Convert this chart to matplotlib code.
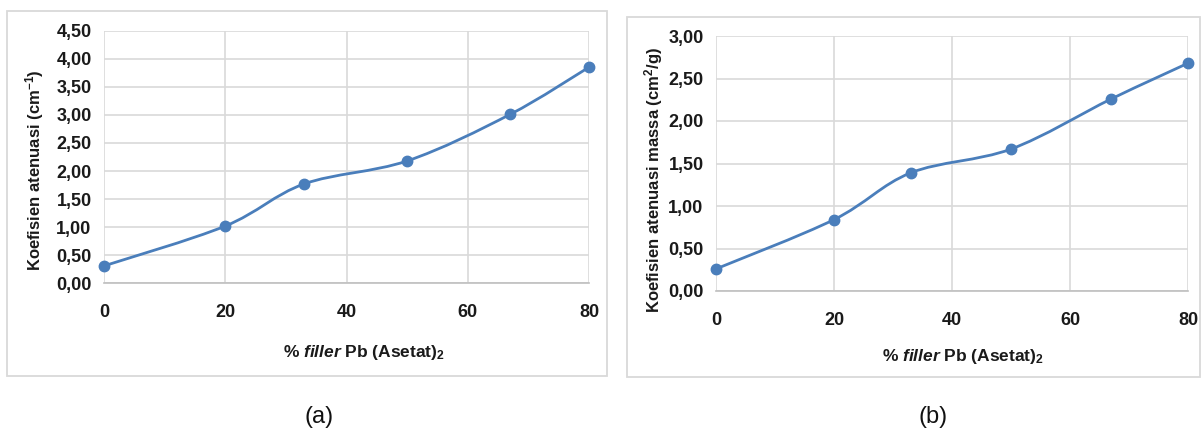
import matplotlib
matplotlib.use("Agg")
import matplotlib.pyplot as plt
from matplotlib.path import Path
from matplotlib.patches import PathPatch, Rectangle
import numpy as np

# data
filler_pct = [0, 20, 33, 50, 67, 80]
koef_linear = [0.31, 1.02, 1.77, 2.18, 3.01, 3.85]    # cm^-1
koef_massa = [0.26, 0.84, 1.39, 1.67, 2.26, 2.68]     # cm^2/g
x_ticks = [0, 20, 40, 60, 80]
y_ticks_a = [0, 0.5, 1.0, 1.5, 2.0, 2.5, 3.0, 3.5, 4.0, 4.5]
y_ticks_b = [0, 0.5, 1.0, 1.5, 2.0, 2.5, 3.0]

FONT = ["Liberation Sans", "DejaVu Sans"]
plt.rcParams["font.family"] = FONT
plt.rcParams["mathtext.fontset"] = "custom"
plt.rcParams["mathtext.rm"] = "Liberation Sans:bold"
plt.rcParams["mathtext.it"] = "Liberation Sans:italic:bold"
plt.rcParams["mathtext.bf"] = "Liberation Sans:bold"

LINE = "#4a7ebb"
GRID = "#d9d9d9"
TXT = "#1a1a1a"


def smooth_path(ax, xs, ys):
    # excel-like smoothed line: bezier through every point
    xs = np.asarray(xs, float)
    ys = np.asarray(ys, float)
    n = len(xs)
    verts = [(xs[0], ys[0])]
    codes = [Path.MOVETO]
    for i in range(n - 1):
        p0 = np.array([xs[max(i - 1, 0)], ys[max(i - 1, 0)]])
        p1 = np.array([xs[i], ys[i]])
        p2 = np.array([xs[i + 1], ys[i + 1]])
        p3 = np.array([xs[min(i + 2, n - 1)], ys[min(i + 2, n - 1)]])
        c1 = p1 + (p2 - p0) / 6.0
        c2 = p2 - (p3 - p1) / 6.0
        verts += [tuple(c1), tuple(c2), tuple(p2)]
        codes += [Path.CURVE4, Path.CURVE4, Path.CURVE4]
    patch = PathPatch(Path(verts, codes), facecolor="none", edgecolor=LINE,
                      linewidth=2.0, zorder=3)
    ax.add_patch(patch)


def panel(rect, ys, yticks, ymax):
    ax = fig.add_axes(rect)
    smooth_path(ax, filler_pct, ys)
    ax.plot(filler_pct, ys, "o", color=LINE, markersize=7.5, zorder=4, clip_on=False)
    ax.set_xlim(0, 80)
    ax.set_ylim(0, ymax)
    ax.set_xticks(x_ticks)
    ax.set_yticks(yticks)
    ax.set_yticklabels([f"{v:.2f}".replace(".", ",") for v in yticks])
    ax.tick_params(axis="both", length=0, labelsize=13, colors=TXT)
    ax.tick_params(axis="x", pad=15)
    ax.tick_params(axis="y", pad=9)
    for lab in ax.get_xticklabels() + ax.get_yticklabels():
        lab.set_fontweight("bold")
    ax.grid(True, color=GRID, linewidth=1.2)
    ax.set_axisbelow(True)
    for s in ["top", "right", "left"]:
        ax.spines[s].set_visible(False)
    ax.spines["bottom"].set_color("#bfbfbf")
    ax.spines["bottom"].set_linewidth(1.2)
    return ax


fig = plt.figure(figsize=(12.02, 4.33), dpi=100)
W, H = 1202.0, 433.0

# outer boxes around each chart
for x0, y0, x1, y1 in [(7, 11, 607, 376), (627, 17, 1200, 377)]:
    fig.add_artist(Rectangle((x0 / W, 1 - y1 / H), (x1 - x0) / W, (y1 - y0) / H,
                             transform=fig.transFigure, fill=False,
                             edgecolor="#d9d9d9", linewidth=1.3))

ax_a = panel([104 / W, 1 - 283.3 / H, 485 / W, 252.6 / H], koef_linear, y_ticks_a, 4.5)
ax_b = panel([716 / W, 1 - 291 / H, 472 / W, 255 / H], koef_massa, y_ticks_b, 3.0)

xlabel = r"% $\mathit{filler}$ Pb (Asetat)$_{2}$"
fig.text(364 / W, 1 - 352 / H, xlabel, ha="center", va="center", fontsize=12.5,
         fontweight="bold", color=TXT)
fig.text(963 / W, 1 - 357 / H, xlabel, ha="center", va="center", fontsize=12.5,
         fontweight="bold", color=TXT)

fig.text(35 / W, 1 - 170 / H, r"Koefisien atenuasi (cm$^{\mathregular{-1}}$)", rotation=90,
         ha="center", va="center", fontsize=12, fontweight="bold", color=TXT)
fig.text(654 / W, 1 - 180 / H, r"Koefisien atenuasi massa (cm$^{\mathregular{2}}$/g)", rotation=90,
         ha="center", va="center", fontsize=12, fontweight="bold", color=TXT)

fig.text(319 / W, 1 - 417 / H, "(a)", ha="center", va="center", fontsize=17, color="#111111")
fig.text(933 / W, 1 - 417 / H, "(b)", ha="center", va="center", fontsize=17, color="#111111")

fig.savefig("out.png", dpi=100)
